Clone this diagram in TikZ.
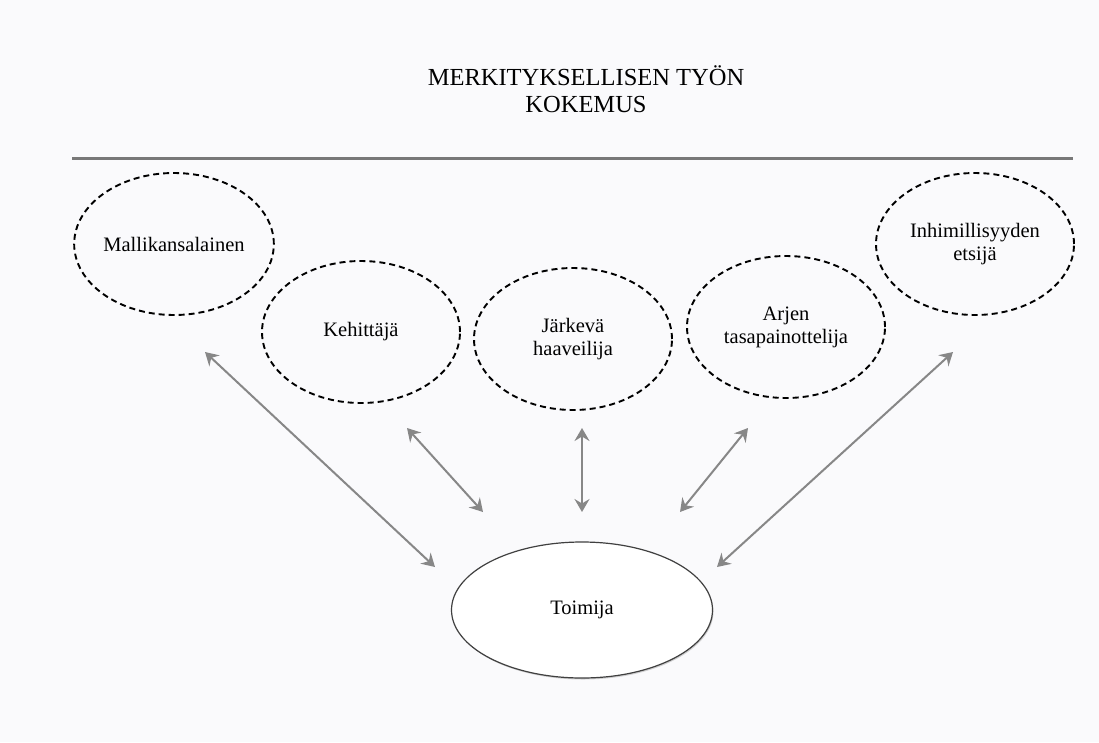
\documentclass[tikz,border=0pt]{standalone}
\usepackage{fontspec}
\setmainfont{Liberation Serif}
\usetikzlibrary{shapes.geometric,arrows.meta,shadows}
\definecolor{bgcol}{RGB}{250,250,252}
\definecolor{arrcol}{RGB}{135,135,135}
\definecolor{rulecol}{RGB}{120,120,120}
\tikzset{
  dashell/.style={ellipse, draw=black, line width=1.9pt, dash pattern=on 6pt off 4pt,
    minimum width=198pt, minimum height=142pt, inner sep=0pt, align=center,
    font=\fontsize{20.5}{23}\selectfont},
  solidell/.style={ellipse, draw=black!75, line width=1.2pt, fill=white,
    drop shadow={opacity=0.35, shadow xshift=1pt, shadow yshift=-1.5pt},
    minimum width=261pt, minimum height=136pt, inner sep=0pt,
    font=\fontsize{20.5}{23}\selectfont},
  conn/.style={draw=arrcol, line width=2pt,
    {Stealth[length=13pt,width=15pt,inset=4.5pt]}-{Stealth[length=13pt,width=15pt,inset=4.5pt]}},
}
\begin{document}
\begin{tikzpicture}[x=1pt,y=-1pt]
\fill[bgcol] (0,0) rectangle (1099,742);
\useasboundingbox (0,0) rectangle (1099,742);

\node[align=center, font=\fontsize{24.5}{27}\selectfont] (title) at (586,89)
  {MERKITYKSELLISEN TYÖN\\KOKEMUS};

\coordinate (ruleL) at (72,158);
\coordinate (ruleR) at (1073,158);
\draw[rulecol, line width=3pt] (ruleL) -- (ruleR);

\node[dashell] (malli) at (174,244) {Mallikansalainen};
\node[dashell] (kehit) at (361,332) {Kehittäjä};
\node[dashell] (jarke) at (573,339) {Järkevä\\haaveilija};
\node[dashell] (arjen) at (786,327) {Arjen\\tasapainottelija};
\node[dashell] (inhim) at (975,244) {Inhimillisyyden\\etsijä};

\node[solidell] (toimija) at (582,610) {Toimija};

\coordinate (a1) at (205,352);  \coordinate (b1) at (435,567);
\coordinate (a2) at (407,428);  \coordinate (b2) at (483,512);
\coordinate (a3) at (582,428);  \coordinate (b3) at (582,512);
\coordinate (a4) at (748,428);  \coordinate (b4) at (680,512);
\coordinate (a5) at (953,352);  \coordinate (b5) at (717,567);

\draw[conn] (a1) -- (b1);
\draw[conn] (a2) -- (b2);
\draw[conn] (a3) -- (b3);
\draw[conn] (a4) -- (b4);
\draw[conn] (a5) -- (b5);
\end{tikzpicture}
\end{document}
